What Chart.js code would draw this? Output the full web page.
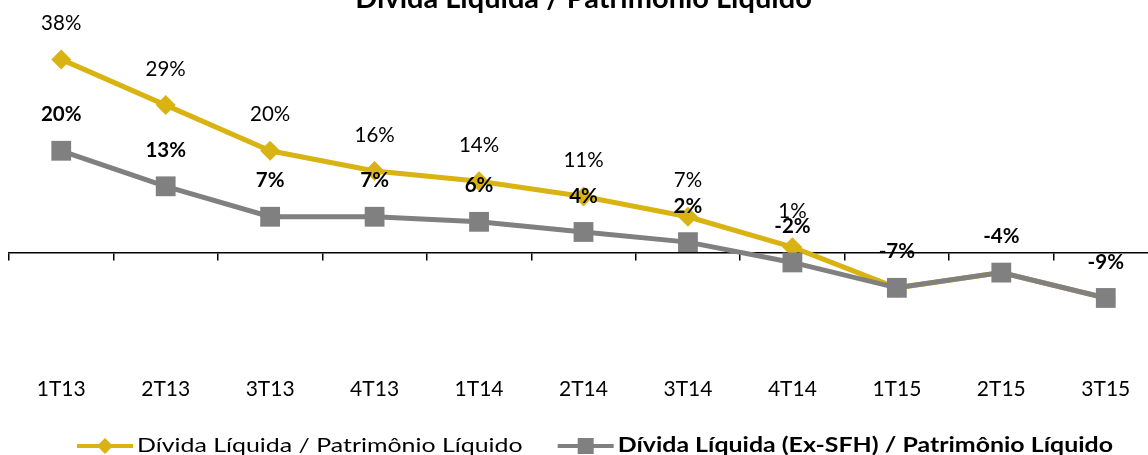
<!DOCTYPE html>
<html>
<head>
<meta charset="utf-8">
<script src="https://cdn.jsdelivr.net/npm/chart.js@4.4.1/dist/chart.umd.min.js"></script>
<style>
  html, body { margin: 0; padding: 0; background: #fff; overflow: hidden; width: 1148px; height: 455px; }
  #c { position: absolute; left: 0; top: -14px; }
</style>
</head>
<body>
<canvas id="c" width="1160" height="469"></canvas>
<script>
const chartTitle = 'Dívida Líquida / Patrimônio Líquido';
const categories = ['1T13','2T13','3T13','4T13','1T14','2T14','3T14','4T14','1T15','2T15','3T15'];
const seriesNames = ['Dívida Líquida / Patrimônio Líquido', 'Dívida Líquida (Ex-SFH) / Patrimônio Líquido'];
const dividaPL = [38, 29, 20, 16, 14, 11, 7, 1, -7, -4, -9];
const dividaExSFH = [20, 13, 7, 7, 6, 4, 2, -2, -7, -4, -9];

const GOLD = 'rgb(216,179,18)';
const GREY = 'rgb(128,128,128)';
const FONT = 'Lato';

const labelPlugin = {
  id: 'valueLabels',
  afterDatasetsDraw(chart) {
    const ctx = chart.ctx;
    ctx.save();
    ctx.textAlign = 'center';
    ctx.textBaseline = 'middle';
    ctx.fillStyle = '#000';
    chart.data.datasets.forEach((ds, di) => {
      const meta = chart.getDatasetMeta(di);
      ctx.font = (di === 1 ? 'bold ' : '') + '20.5px ' + FONT;
      meta.data.forEach((pt, i) => {
        const v = ds.data[i];
        if (di === 0 && v === dividaExSFH[i]) return;
        ctx.fillText(v + '%', pt.x, pt.y - 36);
      });
    });
    ctx.restore();
  }
};

const legendPlugin = {
  id: 'lineLegend',
  afterDraw(chart) {
    const ctx = chart.ctx;
    const items = [
      { text: seriesNames[0], color: GOLD, shape: 'diamond', bold: false },
      { text: seriesNames[1], color: GREY, shape: 'square', bold: true }
    ];
    const lineLen = 56, textGap = 4, itemGap = 35, sx = 1.246;
    ctx.save();
    let total = 0;
    items.forEach(it => {
      ctx.font = (it.bold ? 'bold ' : '') + '20px ' + FONT;
      it.w = ctx.measureText(it.text).width * sx;
      total += lineLen + textGap + it.w;
    });
    total += itemGap * (items.length - 1);
    let x = chart.width / 2 + 15 - total / 2;
    const y = chart.height - 9;
    items.forEach(it => {
      ctx.strokeStyle = it.color;
      ctx.fillStyle = it.color;
      ctx.lineWidth = 4;
      ctx.beginPath();
      ctx.moveTo(x, y);
      ctx.lineTo(x + lineLen, y);
      ctx.stroke();
      const cx = x + lineLen / 2;
      ctx.beginPath();
      if (it.shape === 'diamond') {
        ctx.moveTo(cx - 8, y); ctx.lineTo(cx, y - 8); ctx.lineTo(cx + 8, y); ctx.lineTo(cx, y + 8);
      } else {
        ctx.rect(cx - 8, y - 8, 16, 16);
      }
      ctx.closePath();
      ctx.fill();
      ctx.save();
      ctx.fillStyle = '#000';
      ctx.font = (it.bold ? 'bold ' : '') + '20px ' + FONT;
      ctx.textAlign = 'left';
      ctx.textBaseline = 'middle';
      ctx.translate(x + lineLen + textGap, y);
      ctx.scale(sx, 1);
      ctx.fillText(it.text, 0, 0);
      ctx.restore();
      x += lineLen + textGap + it.w + itemGap;
    });
    ctx.restore();
  }
};

new Chart(document.getElementById('c'), {
  type: 'line',
  data: {
    labels: categories,
    datasets: [
      {
        label: seriesNames[0],
        data: dividaPL,
        borderColor: GOLD,
        backgroundColor: GOLD,
        borderWidth: 5,
        pointStyle: 'rectRot',
        pointRadius: 10,
        pointBorderWidth: 0,
        pointBackgroundColor: GOLD,
        tension: 0,
        clip: false,
        order: 1,
        xAxisID: 'x'
      },
      {
        label: seriesNames[1],
        data: dividaExSFH,
        borderColor: GREY,
        backgroundColor: GREY,
        borderWidth: 5,
        pointStyle: 'rect',
        pointRadius: 14,
        pointBorderWidth: 0,
        pointBackgroundColor: GREY,
        tension: 0,
        clip: false,
        order: 0,
        xAxisID: 'x'
      }
    ]
  },
  options: {
    responsive: false,
    maintainAspectRatio: false,
    animation: false,
    events: [],
    devicePixelRatio: 1,
    layout: { autoPadding: false, padding: { left: 9, right: 2, top: 0, bottom: 30 } },
    plugins: {
      legend: { display: false },
      tooltip: { enabled: false },
      title: {
        display: true,
        text: chartTitle,
        color: '#000',
        font: { family: FONT, size: 29, weight: 'bold', lineHeight: 1.2 },
        padding: { top: -5, bottom: 23.3 }
      }
    },
    scales: {
      y: {
        display: false,
        min: -20,
        max: 42
      },
      x: {
        type: 'category',
        position: 'bottom',
        offset: true,
        grid: { display: false, drawTicks: false },
        border: { display: false },
        ticks: { color: '#000', font: { family: FONT, size: 21 }, padding: 23, maxRotation: 0, autoSkip: false }
      },
      x0: {
        type: 'category',
        labels: categories,
        position: { y: 0 },
        offset: true,
        grid: { offset: true, drawOnChartArea: false, drawTicks: true, tickLength: 7, color: '#000', lineWidth: 1.5 },
        border: { display: true, color: '#000', width: 1.5 },
        ticks: { display: false }
      }
    }
  },
  plugins: [labelPlugin, legendPlugin]
});
</script>
</body>
</html>
